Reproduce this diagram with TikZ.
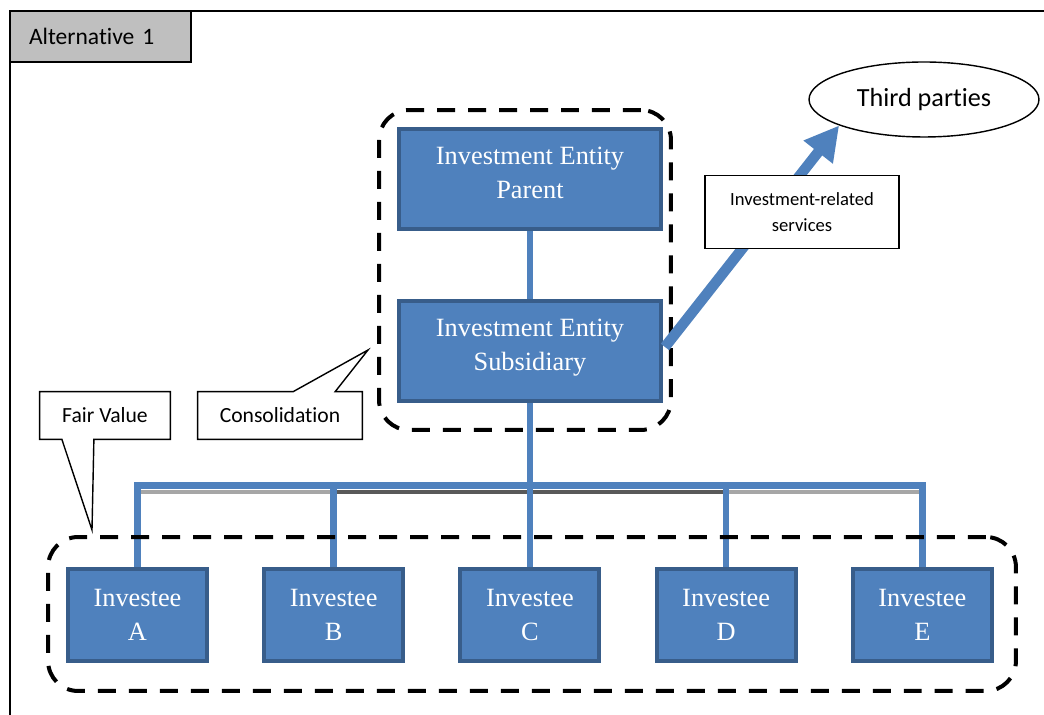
\documentclass[tikz,border=0pt]{standalone}
\usepackage{fontspec}
\setmainfont{Liberation Serif}
\newfontfamily\calibri[RawFeature={-liga;-clig;-calt;-dlig}]{Carlito}
\usetikzlibrary{shapes.geometric,arrows.meta,calc,backgrounds}
\definecolor{entblue}{HTML}{4F81BD}
\definecolor{entborder}{HTML}{385D8A}
\definecolor{tabgray}{HTML}{BFBFBF}
\definecolor{shadelight}{HTML}{A6A6A6}
\definecolor{shadedark}{HTML}{595959}
\newcommand{\liftup}{\rule[-7pt]{0pt}{0pt}}
\tikzstyle{entity}=[draw=entborder,fill=entblue,line width=0.08cm,text=white,align=center,inner sep=0pt,minimum width=5.24cm,minimum height=2cm,font=\fontsize{15}{19.3}\selectfont]
\tikzstyle{investee}=[entity,minimum width=2.78cm,minimum height=1.84cm]
\tikzstyle{link}=[draw=entblue,line width=0.13cm]
\tikzstyle{group}=[draw,line width=0.08cm,dash pattern=on 0.36cm off 0.26cm,rounded corners=0.6cm,inner sep=0pt]
\tikzstyle{note}=[inner sep=0pt,font=\calibri\fontsize{12.3}{15}\selectfont]
\tikzstyle{noteline}=[draw,line width=0.8pt,line join=miter]
\tikzstyle{svcarrow}=[draw=entblue,line width=0.21cm,-{Triangle[width=0.7cm,length=0.68cm]}]

\begin{document}
\begin{tikzpicture}[x=0.02cm,y=-0.02cm,node distance=3.925cm]
\useasboundingbox (0,0) rectangle (1044,715);
\draw[line width=1pt] (10,715) -- (10,11) -- (1044,11);
\node[draw,fill=tabgray,line width=1.1pt,inner xsep=0.38cm,text width=2.86cm,align=left,minimum height=1.02cm,font=\calibri\fontsize{13.4}{16}\selectfont] (alt) at (100.5,36.5) {Alternative 1};

\node[entity]   (ie_p)  at (530,179)    {Investment Entity\\Parent\liftup};
\node[entity]   (ie_s)  [below of=ie_p,node distance=3.44cm] {Investment Entity\\Subsidiary\liftup};
\node[investee] (inv_a) at (137.5,615)  {Investee\\A};
\node[investee] (inv_b) [right of=inv_a] {Investee\\B};
\node[investee] (inv_c) [right of=inv_b] {Investee\\C};
\node[investee] (inv_d) [right of=inv_c] {Investee\\D};
\node[investee] (inv_e) [right of=inv_d] {Investee\\E};

\coordinate (bus)   at (530,485.5);
\coordinate (shade) at (530,492);
\begin{scope}[on background layer]
\draw[shadelight,line width=0.07cm] (inv_a.north |- shade) -- (inv_b.north |- shade)
	(inv_d.north |- shade) -- (inv_e.north |- shade);
\draw[shadedark,line width=0.07cm] (inv_b.north |- shade) -- (inv_d.north |- shade);
\path[link]	(ie_p.south) -- (ie_s.north)
		(ie_s.south) -- (bus)
		(inv_a.north) |- (inv_e.north |- bus) -- (inv_e.north);
\foreach \n in {b,c,d}
	\path[link] (inv_\n.north) -- (inv_\n.north |- bus);
\end{scope}

\node[group,minimum width=5.84cm,minimum height=6.4cm]   (cons_grp) at (525,270) {};
\node[group,minimum width=19.36cm,minimum height=3.08cm] (fv_grp)   at (532,614) {};

\node[draw,ellipse,line width=0.8pt,inner sep=0pt,minimum width=4.6cm,minimum height=1.5cm,font=\calibri\fontsize{14.9}{18}\selectfont] (third) at (924,99.5) {Third parties};
\draw[svcarrow] ($(ie_s.east)+(2,-4)$) -- (third.197.5);
\node[draw,fill=white,line width=1pt,align=center,minimum width=3.88cm,minimum height=1.46cm,inner sep=0pt,font=\calibri\fontsize{10.6}{14.7}\selectfont] (svc) at (802,212) {Investment-related\\services};

\node[note,minimum width=2.6cm,minimum height=0.94cm]  (fv)  at (105,415.5) {Fair Value};
\coordinate (fv_tip) at (92,530);
\draw[noteline] (fv.north west) -- (fv.north east) -- (fv.south east)
	-- ($(fv.south west)!0.415!(fv.south east)$) -- (fv_tip)
	-- ($(fv.south west)!0.17!(fv.south east)$) -- (fv.south west) -- cycle;
\node[note,minimum width=3.28cm,minimum height=0.94cm] (con) at (280,415.5) {Consolidation};
\coordinate (con_tip) at (368,350);
\draw[noteline] (con.south west) -- (con.north west)
	-- ($(con.north west)!0.58!(con.north east)$) -- (con_tip)
	-- ($(con.north west)!0.835!(con.north east)$) -- (con.north east)
	-- (con.south east) -- cycle;
\end{tikzpicture}
\end{document}
